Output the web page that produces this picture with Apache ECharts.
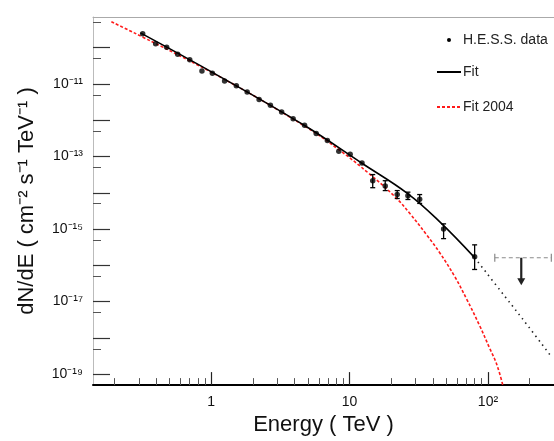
<!DOCTYPE html>
<html>
<head>
<meta charset="utf-8">
<script src="https://cdn.jsdelivr.net/npm/echarts@6/dist/echarts.min.js"></script>
<style>
  html, body { margin: 0; padding: 0; background: #fff; }
  #chart { width: 554px; height: 441px; }
</style>
</head>
<body>
<div id="chart"></div>
<script>
// H.E.S.S. spectral points: energy (TeV) and differential flux (cm^-2 s^-1 TeV^-1)
const energy = [0.32, 0.397, 0.477, 0.573, 0.70, 0.858, 1.02, 1.25, 1.52, 1.82, 2.22, 2.68, 3.23, 3.91,
                4.73, 5.74, 6.91, 8.36, 10.1, 12.3, 14.7, 18.1, 22.1, 26.4, 32.1, 47.8, 80.1];
const flux = [2.40e-10, 1.28e-10, 1.03e-10, 6.58e-11, 4.63e-11, 2.27e-11, 1.96e-11, 1.21e-11, 8.87e-12,
              5.98e-12, 3.70e-12, 2.57e-12, 1.68e-12, 1.10e-12, 7.26e-13, 4.32e-13, 2.75e-13, 1.40e-13,
              1.16e-13, 6.62e-14, 2.15e-14, 1.54e-14, 8.93e-15, 8.23e-15, 6.66e-15, 1.0e-15, 1.73e-16];
// error bars (null where smaller than the marker)
const fluxLow = [null, null, null, null, null, null, null, null, null, null, null, null, null, null,
                 null, null, null, null, null, null, 1.38e-14, 1.15e-14, 6.95e-15, 6.53e-15,
                 5.09e-15, 5.45e-16, 7.69e-17];
const fluxHigh = [null, null, null, null, null, null, null, null, null, null, null, null, null, null,
                  null, null, null, null, null, null, 3.18e-14, 2.15e-14, 1.15e-14, 1.04e-14,
                  8.93e-15, 1.39e-15, 3.67e-16];

// upper limit in the highest energy bin
const ulEnergy = 174;
const ulEnergyLow = 112;
const ulEnergyHigh = 287;
const ulFlux = 1.62e-16;
const ulArrowTip = 3.0e-17;

// spectral fit (solid over the data range, dotted extrapolation beyond)
const fitEnergy = [0.308, 1.02, 4.73, 12.2, 26.3, 44.7, 80.1];
const fitFlux = [2.56e-10, 2.09e-11, 7.13e-13, 6.62e-14, 9.5e-15, 1.60e-15, 1.63e-16];
const fitExtEnergy = [80.1, 132, 194, 289];
const fitExtFlux = [1.63e-16, 1.42e-17, 2.17e-18, 2.93e-19];

// 2004 fit
const fit2004Energy = [0.19, 1.02, 4.73, 8.47, 13.9, 21.2, 27.2, 36.1, 44.8, 57.4, 70.1, 87.1, 102.9, 115.6, 127.8];
const fit2004Flux = [5.19e-10, 2.03e-11, 6.92e-13, 1.49e-13, 3.33e-14, 7.89e-15, 2.72e-15, 6.87e-16,
                     2.23e-16, 4.97e-17, 1.18e-17, 2.17e-18, 5.15e-19, 1.89e-19, 5.1e-20];

// axis ticks and labels
const xMajorTicks = [1, 10, 100];
const xTickLabels = ['1', '10', '10²'];
const xMinorTicks = [0.2, 0.3, 0.4, 0.5, 0.6, 0.7, 0.8, 0.9, 2, 3, 4, 5, 6, 7, 8, 9,
                     20, 30, 40, 50, 60, 70, 80, 90, 200, 300];
const yMajorTicks = [1e-10, 1e-11, 1e-12, 1e-13, 1e-14, 1e-15, 1e-16, 1e-17, 1e-18, 1e-19];
const yMinorTicks = [5e-10, 5e-11, 5e-12, 5e-13, 5e-14, 5e-15, 5e-16, 5e-17, 5e-18, 5e-19];
const yLabelValues = [1e-11, 1e-13, 1e-15, 1e-17, 1e-19];
const yTickLabels = ['10⁻¹¹', '10⁻¹³', '10⁻¹⁵', '10⁻¹⁷', '10⁻¹⁹'];

const X_MIN = 0.14, X_MAX = 300;
const Y_MIN = 5e-20, Y_MAX = 7e-10;

function pickLabel(values, labels, v) {
  let best = -1, bestD = Infinity;
  values.forEach((t, i) => {
    const d = Math.abs(Math.log10(t) - Math.log10(v));
    if (d < bestD) { bestD = d; best = i; }
  });
  return bestD < 0.01 ? labels[best] : '';
}

const FONT = 'Liberation Sans, Arial, Helvetica, sans-serif';
const chart = echarts.init(document.getElementById('chart'), null, { renderer: 'canvas' });

const points = energy.map((e, i) => [e, flux[i]]);
const errBars = [];
energy.forEach((e, i) => {
  if (fluxLow[i] != null) errBars.push([e, fluxLow[i], fluxHigh[i]]);
});

const option = {
  animation: false,
  backgroundColor: '#fff',
  textStyle: { fontFamily: FONT },
  grid: { left: 93, right: 0, top: 17, bottom: 51 },
  xAxis: [
    {
      type: 'log', logBase: 10, min: X_MIN, max: X_MAX, position: 'bottom',
      axisLine: { show: true, lineStyle: { color: '#000', width: 2 } },
      axisTick: { show: true, inside: true, length: 13, customValues: xMajorTicks,
                  lineStyle: { color: '#222', width: 1.2 } },
      axisLabel: { show: true, customValues: xMajorTicks, margin: 10, fontSize: 14, color: '#111',
                   formatter: v => pickLabel(xMajorTicks, xTickLabels, v) },
      splitLine: { show: false }, minorTick: { show: false },
      name: 'Energy ( TeV )', nameLocation: 'middle', nameGap: 27,
      nameTextStyle: { fontSize: 22, color: '#111' }
    },
    {
      type: 'log', logBase: 10, min: X_MIN, max: X_MAX, position: 'bottom',
      axisLine: { show: false },
      axisTick: { show: true, inside: true, length: 7, customValues: xMinorTicks,
                  lineStyle: { color: '#555', width: 1 } },
      axisLabel: { show: false }, splitLine: { show: false }
    },
    {
      type: 'log', logBase: 10, min: X_MIN, max: X_MAX, position: 'top',
      axisLine: { show: true, lineStyle: { color: '#aaa', width: 1 } },
      axisTick: { show: false }, axisLabel: { show: false }, splitLine: { show: false }
    }
  ],
  yAxis: [
    {
      type: 'log', logBase: 10, min: Y_MIN, max: Y_MAX, position: 'left',
      axisLine: { show: true, lineStyle: { color: '#bbb', width: 1 } },
      axisTick: { show: true, inside: true, length: 17, customValues: yMajorTicks,
                  lineStyle: { color: '#333', width: 1.2 } },
      axisLabel: { show: true, customValues: yLabelValues, margin: 10, fontSize: 14, color: '#111',
                   formatter: v => pickLabel(yLabelValues, yTickLabels, v) },
      splitLine: { show: false }, minorTick: { show: false },
      name: 'dN/dE ( cm⁻² s⁻¹ TeV⁻¹ )', nameLocation: 'middle', nameGap: 55,
      nameTextStyle: { fontSize: 22, color: '#111' }
    },
    {
      type: 'log', logBase: 10, min: Y_MIN, max: Y_MAX, position: 'left',
      axisLine: { show: false },
      axisTick: { show: true, inside: true, length: 8, customValues: yMinorTicks,
                  lineStyle: { color: '#555', width: 1 } },
      axisLabel: { show: false }, splitLine: { show: false }
    }
  ],
  series: [
    {
      name: 'Fit 2004', type: 'line', xAxisIndex: 0, yAxisIndex: 0,
      data: fit2004Energy.map((e, i) => [e, fit2004Flux[i]]),
      smooth: 0.4, showSymbol: false, clip: true,
      lineStyle: { color: '#ff1a1a', width: 1.6, type: [3, 2] }, z: 2
    },
    {
      name: 'Fit', type: 'line', xAxisIndex: 0, yAxisIndex: 0,
      data: fitEnergy.map((e, i) => [e, fitFlux[i]]),
      smooth: 0.4, showSymbol: false, clip: true,
      lineStyle: { color: '#000', width: 1.6 }, z: 3
    },
    {
      name: 'Fit extrapolation', type: 'line', xAxisIndex: 0, yAxisIndex: 0,
      data: fitExtEnergy.map((e, i) => [e, fitExtFlux[i]]),
      smooth: 0.4, showSymbol: false, clip: true,
      lineStyle: { color: '#222', width: 1.6, type: [1.5, 4] }, z: 3
    },
    {
      name: 'H.E.S.S. data errors', type: 'custom', xAxisIndex: 0, yAxisIndex: 0,
      data: errBars, z: 4,
      renderItem: (params, api) => {
        const e = api.value(0);
        const lo = api.coord([e, api.value(1)]);
        const hi = api.coord([e, api.value(2)]);
        const st = { stroke: '#000', lineWidth: 1.3 };
        const cap = 2.5;
        return {
          type: 'group', children: [
            { type: 'line', shape: { x1: hi[0], y1: hi[1], x2: lo[0], y2: lo[1] }, style: st },
            { type: 'line', shape: { x1: hi[0] - cap, y1: hi[1], x2: hi[0] + cap, y2: hi[1] }, style: st },
            { type: 'line', shape: { x1: lo[0] - cap, y1: lo[1], x2: lo[0] + cap, y2: lo[1] }, style: st }
          ]
        };
      }
    },
    {
      name: 'H.E.S.S. data', type: 'scatter', xAxisIndex: 0, yAxisIndex: 0,
      data: points, symbol: 'circle', symbolSize: 5.5,
      itemStyle: { color: '#000' }, z: 5
    },
    {
      name: 'Upper limit', type: 'custom', xAxisIndex: 0, yAxisIndex: 0,
      data: [[ulEnergy, ulFlux, ulEnergyLow, ulEnergyHigh, ulArrowTip]], z: 4,
      renderItem: (params, api) => {
        const c = api.coord([api.value(0), api.value(1)]);
        const l = api.coord([api.value(2), api.value(1)]);
        const r = api.coord([api.value(3), api.value(1)]);
        const t = api.coord([api.value(0), api.value(4)]);
        const grey = { stroke: '#8a8a8a', lineWidth: 1.2 };
        return {
          type: 'group', children: [
            { type: 'line', shape: { x1: l[0], y1: l[1], x2: r[0], y2: r[1] },
              style: { stroke: '#8a8a8a', lineWidth: 1.2, lineDash: [4, 3] } },
            { type: 'line', shape: { x1: l[0], y1: l[1] - 4, x2: l[0], y2: l[1] + 4 }, style: grey },
            { type: 'line', shape: { x1: r[0], y1: r[1] - 4, x2: r[0], y2: r[1] + 4 }, style: grey },
            { type: 'line', shape: { x1: c[0], y1: c[1], x2: t[0], y2: t[1] - 5 },
              style: { stroke: '#222', lineWidth: 2.2 } },
            { type: 'polygon', shape: { points: [[t[0] - 4, t[1] - 6], [t[0] + 4, t[1] - 6], [t[0], t[1] + 1]] },
              style: { fill: '#222' } }
          ]
        };
      }
    }
  ],
  graphic: [
    { type: 'circle', shape: { cx: 449, cy: 40, r: 2 }, style: { fill: '#000' } },
    { type: 'text', x: 463, y: 40, style: { text: 'H.E.S.S. data', font: '14px ' + FONT, fill: '#222', verticalAlign: 'middle' } },
    { type: 'line', shape: { x1: 437, y1: 72, x2: 461, y2: 72 }, style: { stroke: '#000', lineWidth: 2 } },
    { type: 'text', x: 463, y: 72, style: { text: 'Fit', font: '14px ' + FONT, fill: '#222', verticalAlign: 'middle' } },
    { type: 'line', shape: { x1: 437, y1: 107, x2: 461, y2: 107 }, style: { stroke: '#ff1a1a', lineWidth: 1.8, lineDash: [3, 2] } },
    { type: 'text', x: 463, y: 107, style: { text: 'Fit 2004', font: '14px ' + FONT, fill: '#222', verticalAlign: 'middle' } }
  ]
};

chart.setOption(option);
</script>
</body>
</html>
